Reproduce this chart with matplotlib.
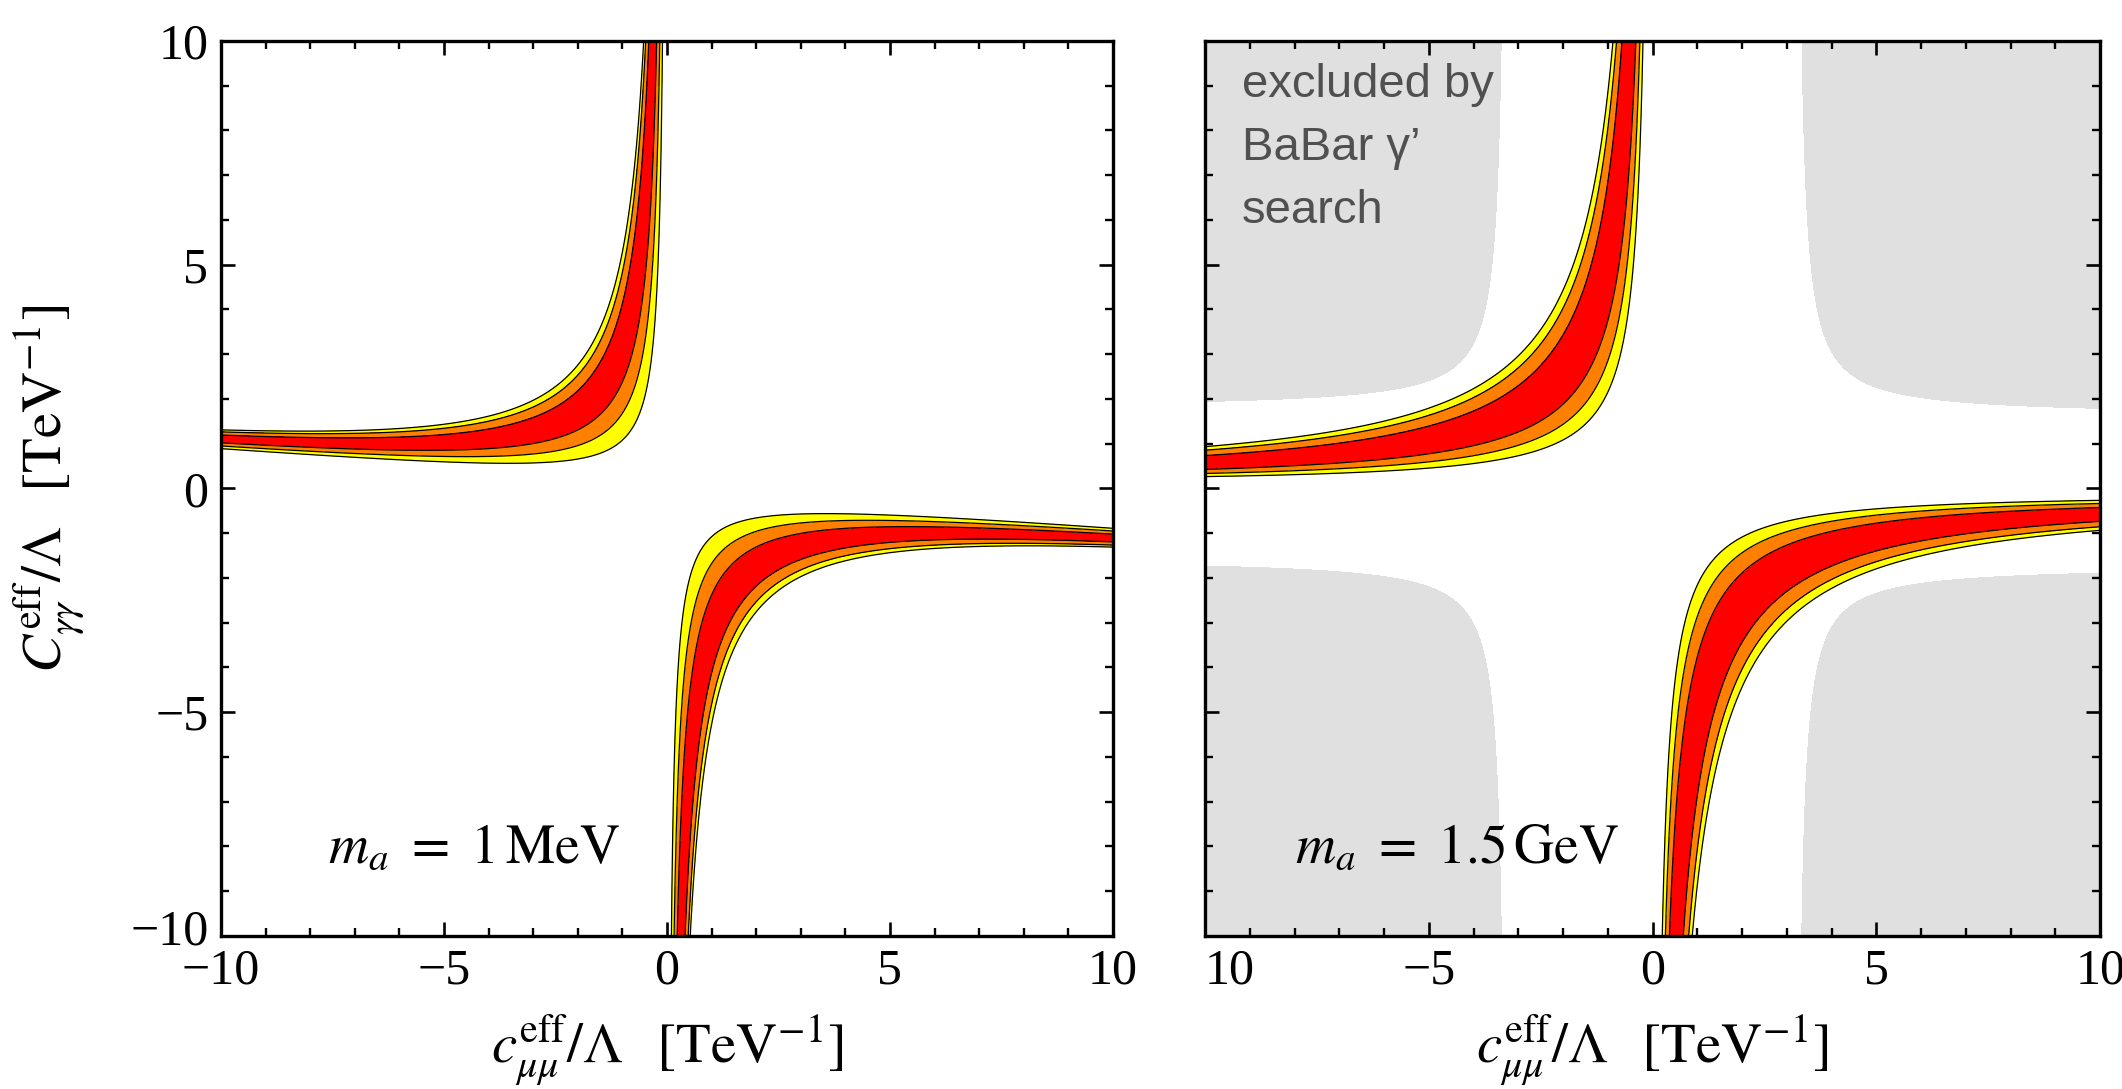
import numpy as np
import matplotlib
matplotlib.use("Agg")
import matplotlib.pyplot as plt
import matplotlib.transforms as mtransforms
from matplotlib.ticker import MultipleLocator

plt.rcParams['font.family'] = ['Liberation Serif', 'DejaVu Serif']
plt.rcParams['mathtext.fontset'] = 'stix'

# band levels of c*(C + k*c) (outer yellow -> inner yellow)
left_levels = [-5.2, -4.75, -4.05, -2.3, -1.6, -1.0]
left_k = 0.079
right_levels = [-8.85, -8.05, -6.85, -3.75, -2.85, -2.15]
right_k = 0.005
band_colors = ['#ffff00', '#ff8000', '#ff0000', '#ff8000', '#ffff00']

# BaBar excluded corners: sign of c, sign of C, c offset, C offset, curvature
gray_sc = [-1, 1, -1, 1]
gray_sC = [1, 1, -1, -1]
gray_a = [3.25, 3.2, 3.25, 3.2]
gray_b = [1.78, 1.62, 1.57, 1.73]
gray_K = [1.1, 1.15, 1.1, 1.1]

xticks = [-10, -5, 0, 5, 10]
left_xticklabels = ['\u221210', '\u22125', '0', '5', '10']
right_xticklabels = ['10', '\u22125', '0', '5', '10']
yticks = [-10, -5, 0, 5, 10]
yticklabels = ['\u221210', '\u22125', '0', '5', '10']

c = np.linspace(-10, 10, 1601)
cc, CC = np.meshgrid(c, c)

fig = plt.figure(figsize=(21.22, 10.89), dpi=100)
ax1 = fig.add_axes([0.1041, 0.1405, 0.4204, 0.8219])
ax2 = fig.add_axes([0.5679, 0.1405, 0.4218, 0.8219])


def draw_bands(ax, levels, k):
    f = cc * (CC + k * cc)
    ax.contourf(cc, CC, f, levels=levels, colors=band_colors, zorder=2)
    ax.contour(cc, CC, f, levels=levels, colors='k', linewidths=0.9,
               linestyles='solid', zorder=3)


# gray exclusion regions (right panel only)
for sc, sC, a, b, K in zip(gray_sc, gray_sC, gray_a, gray_b, gray_K):
    u = sc * cc - a
    v = sC * CC - b
    h = np.where((u > 0) & (v > 0), u * v, -1.0)
    ax2.contourf(cc, CC, h, levels=[K, 1e9], colors=['#e0e0e0'], zorder=1)

draw_bands(ax1, left_levels, left_k)
draw_bands(ax2, right_levels, right_k)

xlabel = r'$c^{\rm eff}_{\mu\mu}/\Lambda\;\;\;[{\rm TeV}^{-1}]$'
for ax, xl in [(ax1, left_xticklabels), (ax2, right_xticklabels)]:
    ax.set_xlim(-10, 10)
    ax.set_ylim(-10, 10)
    ax.xaxis.set_minor_locator(MultipleLocator(1))
    ax.yaxis.set_minor_locator(MultipleLocator(1))
    ax.set_xticks(xticks)
    ax.set_xticklabels(xl)
    ax.set_yticks(yticks)
    ax.tick_params(which='both', direction='in', top=True, right=True,
                   labelsize=36, pad=9)
    ax.tick_params(which='major', length=10, width=1.9)
    ax.tick_params(which='minor', length=5.5, width=1.7)
    for s in ax.spines.values():
        s.set_linewidth(2.4)
    ax.set_xlabel(xlabel, fontsize=41)
    ax.xaxis.set_label_coords(0.5, -0.086)

ax1.set_yticklabels(yticklabels)
ax2.set_yticklabels([])
ax2.get_xticklabels()[0].set_horizontalalignment('left')

# lift the bottom y tick label a little so it clears the x tick label
lift = mtransforms.ScaledTranslation(0, 7 / 72, fig.dpi_scale_trans)
bottom_lbl = ax1.yaxis.get_major_ticks()[0].label1
bottom_lbl.set_transform(bottom_lbl.get_transform() + lift)

ax1.set_ylabel(r'$C^{\rm eff}_{\gamma\gamma}/\Lambda\;\;\;[{\rm TeV}^{-1}]$',
               fontsize=41)
ax1.yaxis.set_label_coords(-0.15, 0.5)

ax1.text(-7.6, -8.35, r'$m_a\ =\ 1\,{\rm MeV}$', fontsize=40, zorder=5)
ax2.text(-8.0, -8.35, r'$m_a\ =\ 1.5\,{\rm GeV}$', fontsize=40, zorder=5)
ax2.text(-9.17, 9.5, 'excluded by\nBaBar \u03b3\u2019\nsearch', fontsize=34,
         family=['Liberation Sans', 'DejaVu Sans'], color='#505050',
         va='top', ha='left', linespacing=1.55, zorder=5)

fig.savefig('out.png', dpi=100)
